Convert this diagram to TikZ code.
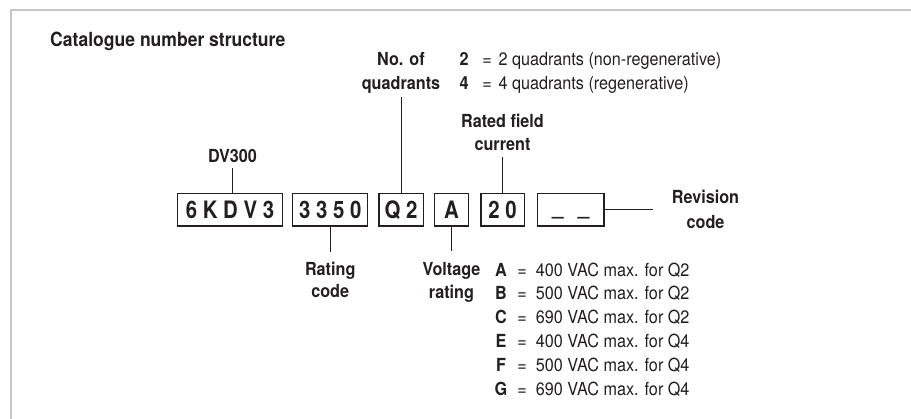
\documentclass[tikz,border=0pt]{standalone}
\usepackage{fontspec}
\setmainfont{TeX Gyre Heros}[FakeStretch=0.9]
\newfontfamily\boxfont{TeX Gyre Heros}[FakeStretch=0.85]
\definecolor{ink}{HTML}{231F20}
\definecolor{framegray}{HTML}{C6C6CA}
\begin{document}
\begin{tikzpicture}[x=1pt,y=-1pt,
  every node/.style={text=ink},
  lab/.style={font=\bfseries\fontsize{18}{22}\selectfont, inner sep=0pt, text height=13pt, text depth=0pt, anchor=base},
  txt/.style={font=\fontsize{18}{22}\selectfont, inner sep=0pt, anchor=base west},
  eq/.style={font=\fontsize{18}{22}\selectfont, inner sep=0pt, anchor=base},
  codebox/.style={draw=ink, line width=1.2pt, inner sep=0pt, minimum height=32.7pt, text height=17pt, text depth=0pt, font=\boxfont\bfseries\fontsize{24}{28}\selectfont},
  conn/.style={draw=ink, line width=1pt}]
\useasboundingbox (0,0) rectangle (911,418);
% frame
\draw[framegray, line width=2.4pt, line join=miter] (11,420) -- (11,10) -- (913,10);
% title
\node[lab, anchor=base west, font=\bfseries\fontsize{19.5}{23}\selectfont] (title) at (50,46.7) {Catalogue number structure};
% quadrants
\node[lab] (q1) at (401,65) {No. of};
\node[lab, outer ysep=7.4pt] (q2) at (401,89.3) {quadrants};
\node[lab] (k2) at (464,65) {2};
\node[eq] (e2) at (487,65) {=};
\node[txt] (d2) at (498.3,65) {2 quadrants (non-regenerative)};
\node[lab] (k4) at (464,89.3) {4};
\node[eq] (e4) at (487,89.3) {=};
\node[txt] (d4) at (498.3,89.3) {4 quadrants (regenerative)};
% rated field current
\node[lab] (rf1) at (502.5,127) {Rated field};
\node[lab, outer ysep=7pt] (rf2) at (502.5,150) {current};
% DV300
\node[lab, outer ysep=6pt] (dv) at (232.5,162) {DV300};
% boxes
\node[codebox, minimum width=104.6pt] (b1) at (230,209.65) {6 K D V 3};
\node[codebox, minimum width=75pt] (b2) at (330.2,209.65) {3 3 5 0};
\node[codebox, minimum width=44.3pt] (b3) at (401.15,209.65) {Q 2};
\node[codebox, minimum width=34.4pt] (b4) at (451.5,209.65) {A};
\node[codebox, minimum width=43.3pt] (b5) at (502.65,209.65) {2 0};
\node[codebox, minimum width=66.7pt] (b6) at (570.65,209.65) {\raisebox{4pt}{\_}\hspace{0.6em}\raisebox{4pt}{\_}};
% revision code
\node[lab] (rv1) at (705.5,203.3) {Revision};
\node[lab] (rv2) at (705.5,228.3) {code};
\coordinate (revend) at (652.7,209.65);
% rating code
\node[lab, outer ysep=10.3pt] (rc1) at (330.2,275) {Rating};
\node[lab] (rc2) at (330.2,297.7) {code};
% voltage rating
\node[lab, outer ysep=11pt] (vr1) at (451.5,275) {Voltage};
\node[lab] (vr2) at (451.5,298) {rating};
\foreach \k/\t [count=\i from 0] in {A/400 VAC max. for Q2, B/500 VAC max. for Q2, C/690 VAC max. for Q2, E/400 VAC max. for Q4, F/500 VAC max. for Q4, G/690 VAC max. for Q4}{
  \node[lab] (vk\i) at (501,{276+23.9*\i}) {\k};
  \node[eq] (ve\i) at (522,{276+23.9*\i}) {=};
  \node[txt] (vd\i) at (535.7,{276+23.9*\i}) {\t};
}
% connectors
\draw[conn] (dv.south) -- (dv.south |- b1.north);
\draw[conn] (q2.south) -- (q2.south |- b3.north);
\draw[conn] (rf2.south) -- (rf2.south |- b5.north);
\draw[conn] (b2.south) -- (b2.south |- rc1.north);
\draw[conn] (b4.south) -- (b4.south |- vr1.north);
\draw[conn] (b6.east) -- (revend);
\end{tikzpicture}
\end{document}
